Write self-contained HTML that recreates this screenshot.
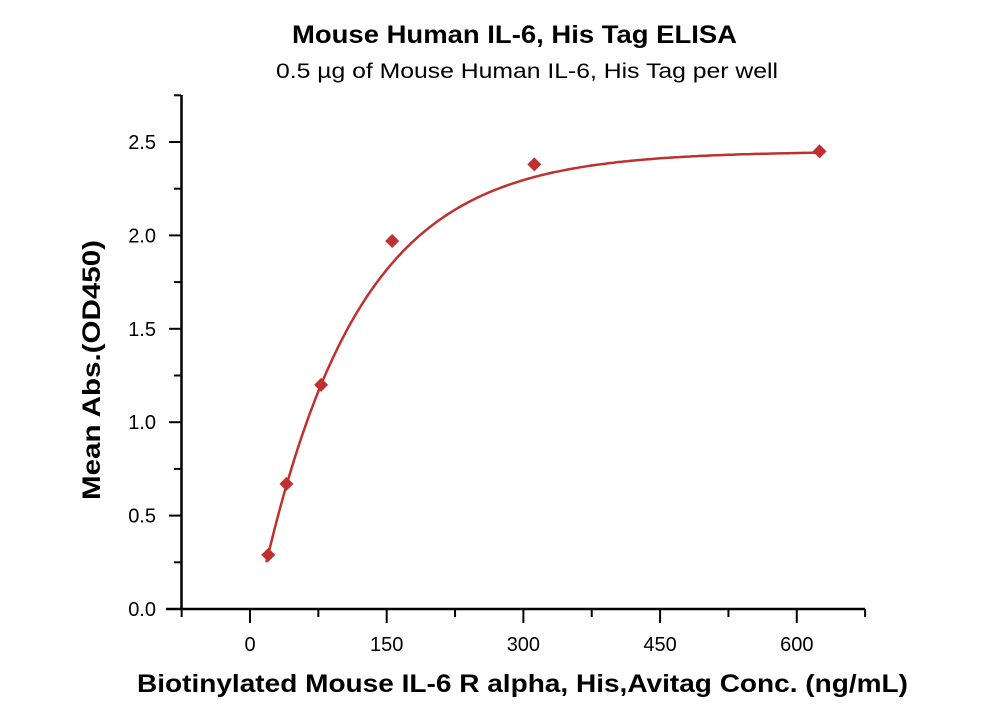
<!DOCTYPE html>
<html><head><style>
body{margin:0;background:#fff;}
svg text{font-family:"Liberation Sans",sans-serif;}
</style></head><body>
<svg width="1000" height="714" viewBox="0 0 1000 714" xmlns="http://www.w3.org/2000/svg">
<text x="292" y="43" font-size="25" font-weight="bold" textLength="445" lengthAdjust="spacingAndGlyphs">Mouse Human IL-6, His Tag ELISA</text>
<text x="276" y="78" font-size="21" textLength="502" lengthAdjust="spacingAndGlyphs">0.5 µg of Mouse Human IL-6, His Tag per well</text>
<g stroke="#000" stroke-width="2.5" fill="none">
<line x1="181.5" y1="95" x2="181.5" y2="610"/>
<line x1="166" y1="609" x2="865" y2="609"/>
</g>
<g stroke="#000" stroke-width="2" id="ticks"></g>
<g font-size="20" text-anchor="end" id="ylab"></g>
<g font-size="20" text-anchor="middle" id="xlab"></g>
<path id="curve" fill="none" stroke="#c0302e" stroke-width="2.5"/>
<g fill="#c0302e" id="pts"></g>
<text x="137" y="692" font-size="25" font-weight="bold" textLength="771" lengthAdjust="spacingAndGlyphs">Biotinylated Mouse IL-6 R alpha, His,Avitag Conc. (ng/mL)</text>
<text transform="translate(100,500) rotate(-90)" font-size="25" font-weight="bold" textLength="260" lengthAdjust="spacingAndGlyphs">Mean Abs.(OD450)</text>
</svg>
<script>
const X=x=>250+x*0.9113, Y=y=>609-y*186.8;
let t='',yl='',xl='';
for(let i=0;i<=11;i++){const v=i*0.25,y=Y(v);if(y<95)break;
 t+=`<line x1="${i%2?174:169}" y1="${y}" x2="181" y2="${y}"/>`;
 if(i%2==0)yl+=`<text x="156" y="${y+7}">${v.toFixed(1)}</text>`;}
for(let v=-75;v<=675;v+=75){const x=X(v);
 t+=`<line x1="${x}" y1="609" x2="${x}" y2="${v%150==0?623:617}"/>`;
 if(v%150==0&&v>=0)xl+=`<text x="${x}" y="651">${v}</text>`;}
document.getElementById('ticks').innerHTML=t;
document.getElementById('ylab').innerHTML=yl;
document.getElementById('xlab').innerHTML=xl;
let d='';
for(let x=18;x<=625;x+=3){const y=2.45*(1-Math.exp(-0.00943*(x-6.6)));d+=(d?'L':'M')+X(x).toFixed(1)+','+Y(y).toFixed(1);}
document.getElementById('curve').setAttribute('d',d);
let s='';
[[20,.29],[40,.67],[78,1.2],[156,1.97],[312,2.38],[625,2.45]].forEach(([a,b])=>{const x=X(a),y=Y(b);
 s+=`<polygon points="${x},${y-7} ${x+7},${y} ${x},${y+7} ${x-7},${y}"/>`;});
document.getElementById('pts').innerHTML=s;
</script>
</body></html>
